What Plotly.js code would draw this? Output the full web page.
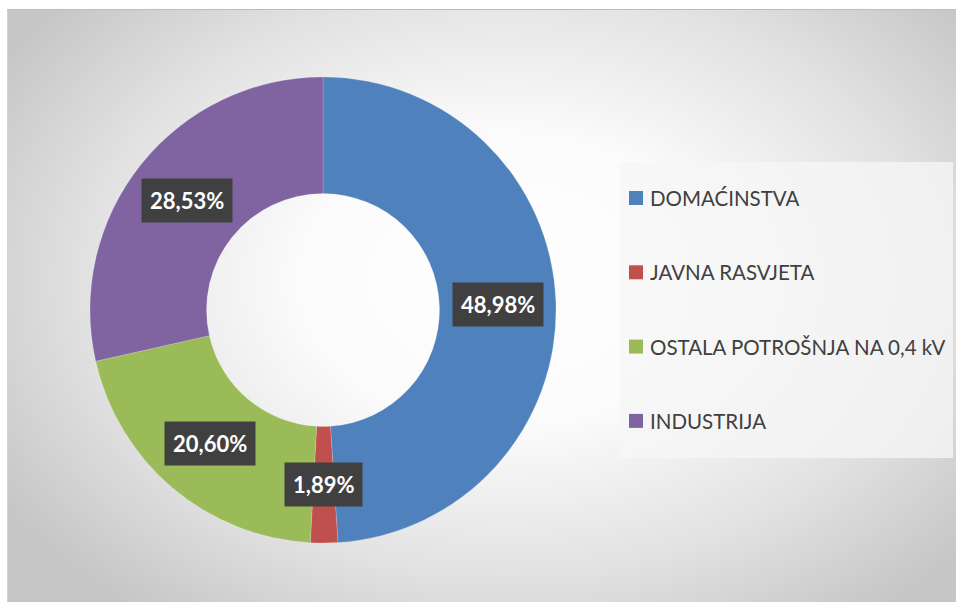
<!DOCTYPE html>
<html>
<head>
<meta charset="utf-8">
<script src="https://cdn.plot.ly/plotly-3.0.1.min.js"></script>
<style>
  html, body { margin:0; padding:0; background:#ffffff; width:956px; height:602px; overflow:hidden; }
  #bg { position:absolute; left:7px; top:9px; width:960px; height:600px;
        border-top:1px solid #bcbcbc; border-left:1px solid #d2d2d2;
        background: radial-gradient(ellipse 62% 70% at 52% 45%, #ffffff 0%, #fbfbfb 35%, #e2e2e2 70%, #c6c6c6 100%); }
  #chart { position:absolute; left:0; top:0; width:956px; height:602px; }
</style>
</head>
<body>
<div id="bg"></div>
<div id="chart"></div>
<script>
const categories = ['DOMAĆINSTVA', 'JAVNA RASVJETA', 'OSTALA POTROŠNJA NA 0,4 kV', 'INDUSTRIJA'];
const values = [48.98, 1.89, 20.60, 28.53];
const valueLabels = ['48,98%', '1,89%', '20,60%', '28,53%'];
const colors = ['#4f81bd', '#c0504d', '#9bbb59', '#8064a2'];

const W = 956, H = 602;
const cx = 323, cy = 310, R = 233, hole = 0.5;

const total = values.reduce((a, b) => a + b, 0);
const annotations = [];
const shapes = [];

// data labels centred in the ring, positioned from the slice angles
let cum = 0;
const rLab = R * (1 + hole) / 2;
values.forEach((v, i) => {
  const mid = (cum + v / 2) / total;
  cum += v;
  const th = 2 * Math.PI * mid;
  const px = cx + rLab * Math.sin(th);
  const py = cy - rLab * Math.cos(th);
  annotations.push({
    xref: 'paper', yref: 'paper', x: px / W, y: 1 - py / H,
    xanchor: 'center', yanchor: 'middle',
    text: '<b>' + valueLabels[i] + '</b>', showarrow: false,
    font: { family: 'Lato, sans-serif', size: 22, color: '#ffffff' },
    bgcolor: '#404040', borderpad: 8
  });
});

// legend box
shapes.push({ type: 'rect', xref: 'paper', yref: 'paper', layer: 'below',
  x0: 620 / W, x1: 953 / W, y0: 1 - 458 / H, y1: 1 - 162 / H,
  fillcolor: 'rgba(246,246,246,0.78)', line: { width: 0 } });

categories.forEach((c, i) => {
  const yc = 198 + i * 74.3;
  shapes.push({ type: 'rect', xref: 'paper', yref: 'paper',
    x0: 629 / W, x1: 643 / W, y0: 1 - (yc + 7) / H, y1: 1 - (yc - 7) / H,
    fillcolor: colors[i], line: { width: 0 } });
  annotations.push({ xref: 'paper', yref: 'paper', x: 648 / W, y: 1 - yc / H,
    xanchor: 'left', yanchor: 'middle', text: c, showarrow: false,
    font: { family: 'Lato, sans-serif', size: 20.5, color: '#404040' } });
});

const trace = {
  type: 'pie',
  labels: categories,
  values: values,
  hole: hole,
  sort: false,
  direction: 'clockwise',
  rotation: 0,
  textinfo: 'none',
  hoverinfo: 'label+percent',
  marker: { colors: colors, line: { color: 'rgba(255,255,255,0.35)', width: 0.5 } },
  domain: { x: [(cx - R) / W, (cx + R) / W], y: [(H - cy - R) / H, (H - cy + R) / H] },
  showlegend: false
};

const layout = {
  width: W, height: H,
  margin: { l: 0, r: 0, t: 0, b: 0 },
  paper_bgcolor: 'rgba(0,0,0,0)',
  plot_bgcolor: 'rgba(0,0,0,0)',
  showlegend: false,
  annotations: annotations,
  shapes: shapes
};

Plotly.newPlot('chart', [trace], layout, { displayModeBar: false, staticPlot: true });
</script>
</body>
</html>
